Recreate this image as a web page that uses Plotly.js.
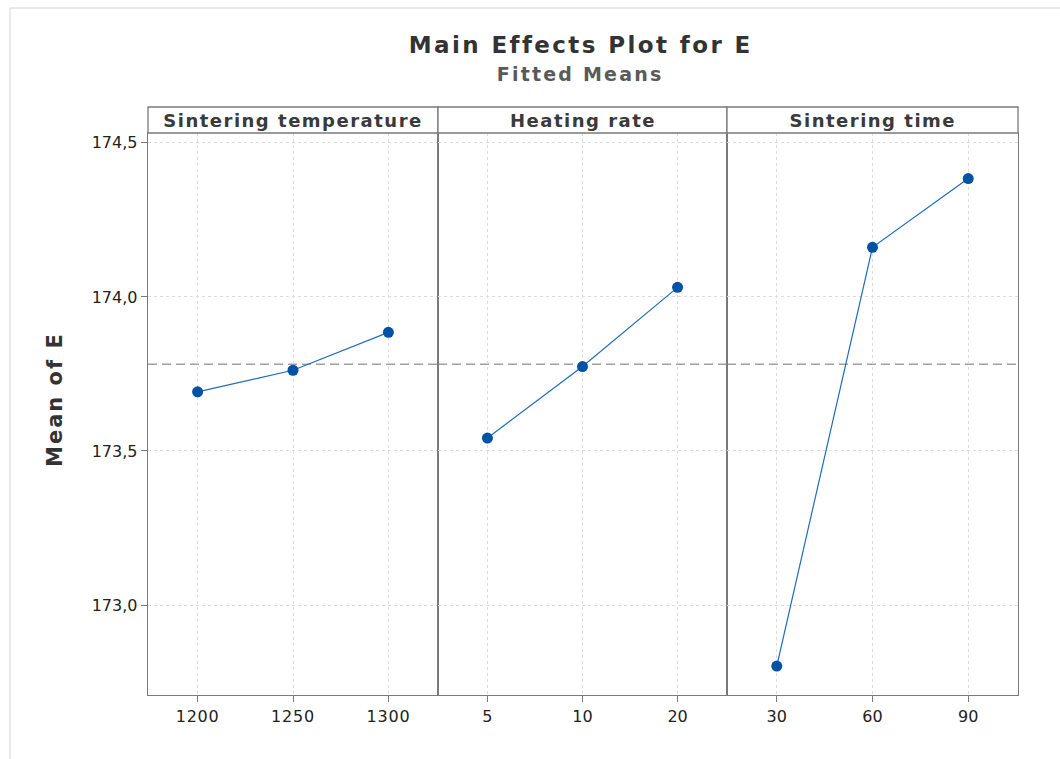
<!DOCTYPE html>
<html>
<head>
<meta charset="utf-8">
<script src="https://cdn.plot.ly/plotly-3.0.1.min.js"></script>
<style>
html,body{margin:0;padding:0;background:#fff;}
#chart{width:1060px;height:759px;}
#chart .annotation-text.main-title{letter-spacing:2.4px;}
#chart .annotation-text.sub-title{letter-spacing:2.2px;}
#chart .annotation-text.strip{letter-spacing:1.5px;}
#chart .annotation-text.y-title{letter-spacing:2px;}
#chart .xtick text{letter-spacing:0.8px;}
</style>
</head>
<body>
<div id="chart"></div>
<script>
// Data
const factors = ["Sintering temperature", "Heating rate", "Sintering time"];
const tempLevels = ["1200", "1250", "1300"];
const tempMeans = [173.692, 173.762, 173.885];
const rateLevels = ["5", "10", "20"];
const rateMeans = [173.542, 173.774, 174.031];
const timeLevels = ["30", "60", "90"];
const timeMeans = [172.802, 174.161, 174.384];
const yTicks = [173.0, 173.5, 174.0, 174.5];

const levels = [tempLevels, rateLevels, timeLevels];
const means = [tempMeans, rateMeans, timeMeans];
const allVals = [].concat(tempMeans, rateMeans, timeMeans);
const grandMean = allVals.reduce((a, b) => a + b, 0) / allVals.length;

const W = 1060, H = 759;
const mL = 148, mR = 42, mT = 133, mB = 64;
const pw = W - mL - mR, ph = H - mT - mB;
const panelEdges = [148, 438, 727, 1018].map(p => (p - mL) / pw);
const stripH = 26 / ph;
const px = v => (v - mL) / pw;
const py = v => (H - mB - v) / ph;

const fontFam = "'DejaVu Sans', 'Noto Sans', sans-serif";
const lineCol = "#7a7a7a";
const gridCol = "#dcdcdc";

const traces = [];
const layout = {
  width: W, height: H,
  margin: {l: mL, r: mR, t: mT, b: mB},
  paper_bgcolor: "#fff", plot_bgcolor: "#fff",
  separators: ", ",
  showlegend: false,
  font: {family: fontFam, color: "#333"},
  shapes: [], annotations: []
};

const yRange = [172.708, 174.532];

for (let i = 0; i < 3; i++) {
  const xa = i === 0 ? "x" : "x" + (i + 1);
  const ya = i === 0 ? "y" : "y" + (i + 1);
  traces.push({
    type: "scatter", mode: "lines+markers",
    x: levels[i], y: means[i], xaxis: xa, yaxis: ya,
    line: {color: "#1f6cc0", width: 1.2},
    marker: {color: "#0052a5", size: 11, symbol: "circle"},
    hoverinfo: "x+y"
  });
  // grand-mean dashed reference line
  layout.shapes.push({
    type: "line", xref: xa + " domain", yref: ya,
    x0: 0, x1: 1, y0: grandMean, y1: grandMean,
    line: {color: "#a0a0a0", width: 1.4, dash: "9px,5px"},
    layer: "below"
  });
  const xKey = i === 0 ? "xaxis" : "xaxis" + (i + 1);
  const yKey = i === 0 ? "yaxis" : "yaxis" + (i + 1);
  layout[xKey] = {
    domain: [panelEdges[i], panelEdges[i + 1]],
    anchor: ya,
    type: "category",
    categoryarray: levels[i],
    range: [-0.52, 2.52],
    showline: true, mirror: true, linecolor: lineCol, linewidth: 1.3,
    ticks: "outside", ticklen: 6, tickcolor: lineCol,
    showgrid: true, gridcolor: gridCol, griddash: "dot", gridwidth: 1,
    tickfont: {size: 16, color: "#222", family: fontFam},
    zeroline: false, fixedrange: true
  };
  layout[yKey] = {
    domain: [0, 1],
    anchor: xa,
    range: yRange,
    tickvals: yTicks,
    tickformat: ".1f",
    showticklabels: i === 0,
    ticks: i === 0 ? "outside" : "",
    ticklen: 6, tickcolor: lineCol,
    showline: true, mirror: true, linecolor: lineCol, linewidth: 1.3,
    showgrid: true, gridcolor: gridCol, griddash: "dot", gridwidth: 1,
    tickfont: {size: 16, color: "#222", family: fontFam},
    zeroline: false, fixedrange: true
  };
  // strip header
  layout.shapes.push({
    type: "rect", xref: "paper", yref: "paper",
    x0: panelEdges[i], x1: panelEdges[i + 1], y0: 1, y1: 1 + stripH,
    line: {color: lineCol, width: 1.3}, fillcolor: "#fff"
  });
  layout.annotations.push({
    xref: "paper", yref: "paper",
    x: (panelEdges[i] + panelEdges[i + 1]) / 2, y: 1 + stripH / 2,
    xanchor: "center", yanchor: "middle", showarrow: false,
    text: factors[i], name: "strip",
    font: {size: 18, color: "#3a3a3a", family: fontFam, weight: "bold"}
  });
}

// y-axis title (as rotated annotation so it can sit where the reference has it)
layout.annotations.push({
  xref: "paper", yref: "paper", x: px(55), y: py(400),
  xanchor: "center", yanchor: "middle", showarrow: false, textangle: -90,
  text: "Mean of E", name: "y-title",
  font: {size: 21, color: "#333", family: fontFam, weight: "bold"}
});

// titles
layout.annotations.push({
  xref: "paper", yref: "paper", x: 0.497, y: py(45),
  xanchor: "center", yanchor: "middle", showarrow: false,
  text: "Main Effects Plot for E", name: "main-title",
  font: {size: 23, color: "#333", family: fontFam, weight: "bold"}
});
layout.annotations.push({
  xref: "paper", yref: "paper", x: 0.497, y: py(74),
  xanchor: "center", yanchor: "middle", showarrow: false,
  text: "Fitted Means", name: "sub-title",
  font: {size: 19, color: "#5a5a5a", family: fontFam, weight: "bold"}
});

// faint outer frame (left and top edges)
layout.shapes.push({type: "line", xref: "paper", yref: "paper", x0: px(10), x1: px(10), y0: py(8), y1: py(759), line: {color: "#d4d4d4", width: 1}});
layout.shapes.push({type: "line", xref: "paper", yref: "paper", x0: px(10), x1: px(1060), y0: py(8), y1: py(8), line: {color: "#d4d4d4", width: 1}});

function tagAnnotations(gd) {
  const texts = gd.querySelectorAll(".annotation-text");
  const names = layout.annotations.map(a => a.name);
  texts.forEach((t, k) => { if (names[k]) t.classList.add(names[k]); });
}

Plotly.newPlot("chart", traces, layout, {displayModeBar: false, staticPlot: true}).then(gd => {
  tagAnnotations(gd);
});
</script>
</body>
</html>
